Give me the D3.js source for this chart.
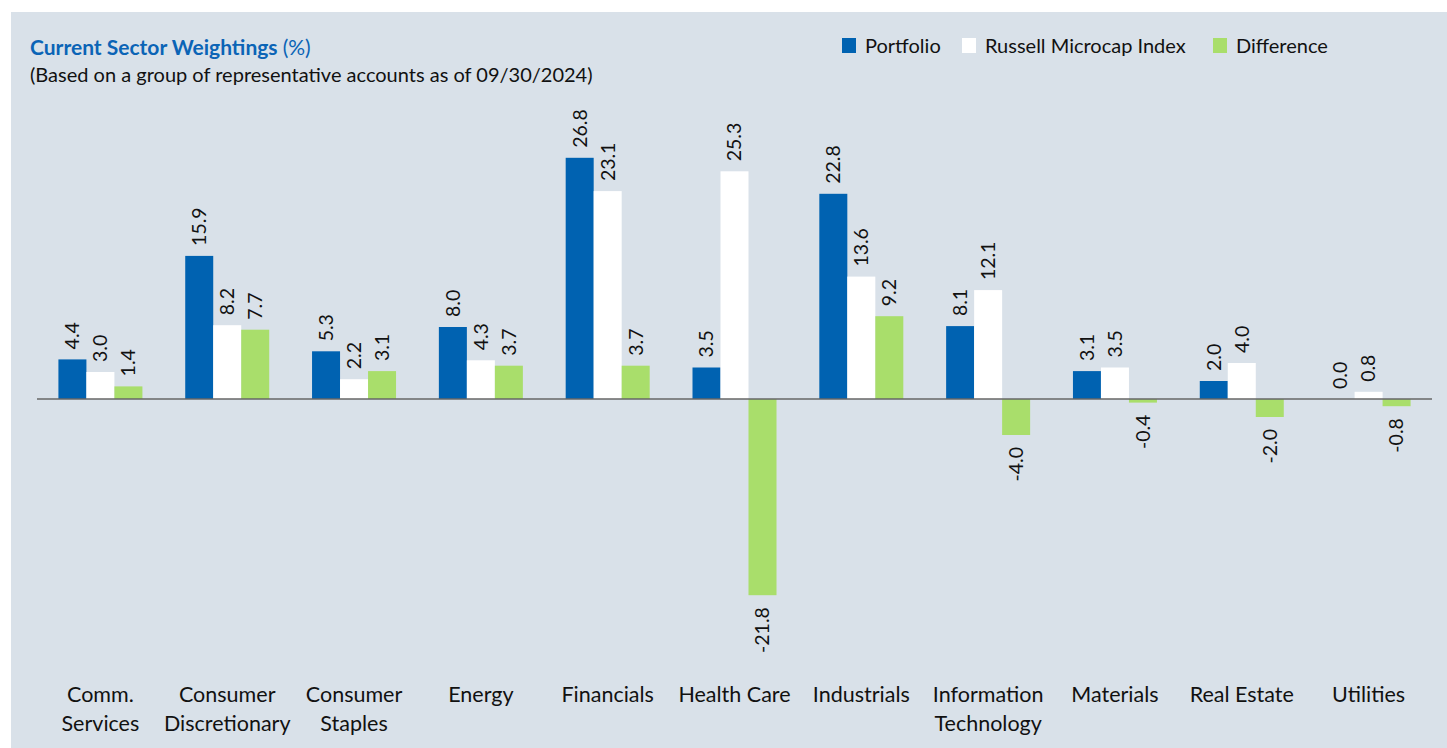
<!DOCTYPE html>
<html>
<head>
<meta charset="utf-8">
<script src="https://cdn.jsdelivr.net/npm/d3@7"></script>
<style>
  html, body { margin: 0; padding: 0; background: #fff; }
  svg { display: block; font-family: Lato, "Open Sans", sans-serif; }
</style>
</head>
<body>
<div id="chart"></div>
<script>
// sectors (x axis), two-line labels
const categories = [
  ["Comm.", "Services"],
  ["Consumer", "Discretionary"],
  ["Consumer", "Staples"],
  ["Energy"],
  ["Financials"],
  ["Health Care"],
  ["Industrials"],
  ["Information", "Technology"],
  ["Materials"],
  ["Real Estate"],
  ["Utilities"]
];
const seriesNames = ["Portfolio", "Russell Microcap Index", "Difference"];
const portfolio = [4.4, 15.9, 5.3, 8.0, 26.8, 3.5, 22.8, 8.1, 3.1, 2.0, 0.0];
const benchmark = [3.0, 8.2, 2.2, 4.3, 23.1, 25.3, 13.6, 12.1, 3.5, 4.0, 0.8];
const difference = [1.4, 7.7, 3.1, 3.7, 3.7, -21.8, 9.2, -4.0, -0.4, -2.0, -0.8];
const colors = ["#0062b1", "#ffffff", "#a9de6b"];

const width = 1447, height = 748;
const svg = d3.select("#chart").append("svg")
  .attr("width", width).attr("height", height);

// panel background
svg.append("rect")
  .attr("x", 11).attr("y", 12)
  .attr("width", width - 11).attr("height", height - 12)
  .attr("fill", "#d9e1e9");

// title
const title = svg.append("text")
  .attr("x", 30).attr("y", 55)
  .attr("font-size", 21).attr("fill", "#0b64b6");
title.append("tspan").attr("font-weight", "bold").text("Current Sector Weightings ");
title.append("tspan").text("(%)");

svg.append("text")
  .attr("x", 30).attr("y", 82)
  .attr("font-size", 20).attr("fill", "#111")
  .text("(Based on a group of representative accounts as of 09/30/2024)");

// legend
const legendX = [842, 962, 1213];
const legend = svg.append("g");
seriesNames.forEach((name, i) => {
  legend.append("rect")
    .attr("x", legendX[i]).attr("y", 38)
    .attr("width", 14).attr("height", 15)
    .attr("fill", colors[i]);
  legend.append("text")
    .attr("x", legendX[i] + 23).attr("y", 53)
    .attr("font-size", 20).attr("fill", "#111")
    .text(name);
});

// scales
const x = d3.scaleBand()
  .domain(d3.range(categories.length))
  .range([37, 1432]);
const x1 = d3.scaleBand()
  .domain(seriesNames)
  .range([0, 84]);
const y = d3.scaleLinear()
  .domain([-25, 30])
  .range([624, 129]);

const rows = categories.map((c, i) => ({
  i,
  values: [portfolio[i], benchmark[i], difference[i]]
}));

const groups = svg.selectAll(".group")
  .data(rows)
  .enter().append("g")
  .attr("class", "group")
  .attr("transform", d => `translate(${x(d.i) + (x.bandwidth() - 84) / 2},0)`);

// bars
groups.selectAll("rect")
  .data(d => d.values.map((v, k) => ({ v, k })))
  .enter().append("rect")
  .attr("x", d => x1(seriesNames[d.k]))
  .attr("width", x1.bandwidth())
  .attr("y", d => y(Math.max(0, d.v)))
  .attr("height", d => Math.abs(y(d.v) - y(0)))
  .attr("fill", d => colors[d.k]);

// value labels (rotated)
groups.selectAll(".val")
  .data(d => d.values.map((v, k) => ({ v, k })))
  .enter().append("text")
  .attr("class", "val")
  .attr("font-size", 19.5)
  .attr("fill", "#111")
  .attr("dy", "0.35em")
  .attr("text-anchor", d => d.v < 0 ? "end" : "start")
  .attr("transform", d => {
    const cx = x1(seriesNames[d.k]) + x1.bandwidth() / 2;
    const cy = d.v < 0 ? y(d.v) + 12 : y(d.v) - 10;
    return `translate(${cx},${cy}) rotate(-90)`;
  })
  .text(d => d.v.toFixed(1));

// zero line
svg.append("line")
  .attr("x1", 37).attr("x2", 1432)
  .attr("y1", y(0)).attr("y2", y(0))
  .attr("stroke", "#666").attr("stroke-width", 1.5);

// category labels
const catLabels = svg.selectAll(".cat")
  .data(categories)
  .enter().append("text")
  .attr("class", "cat")
  .attr("text-anchor", "middle")
  .attr("font-size", 21.5)
  .attr("fill", "#111")
  .attr("transform", (d, i) => `translate(${x(i) + x.bandwidth() / 2},702)`);
catLabels.selectAll("tspan")
  .data(d => d)
  .enter().append("tspan")
  .attr("x", 0)
  .attr("y", (d, j) => j * 29)
  .text(d => d);
</script>
</body>
</html>
